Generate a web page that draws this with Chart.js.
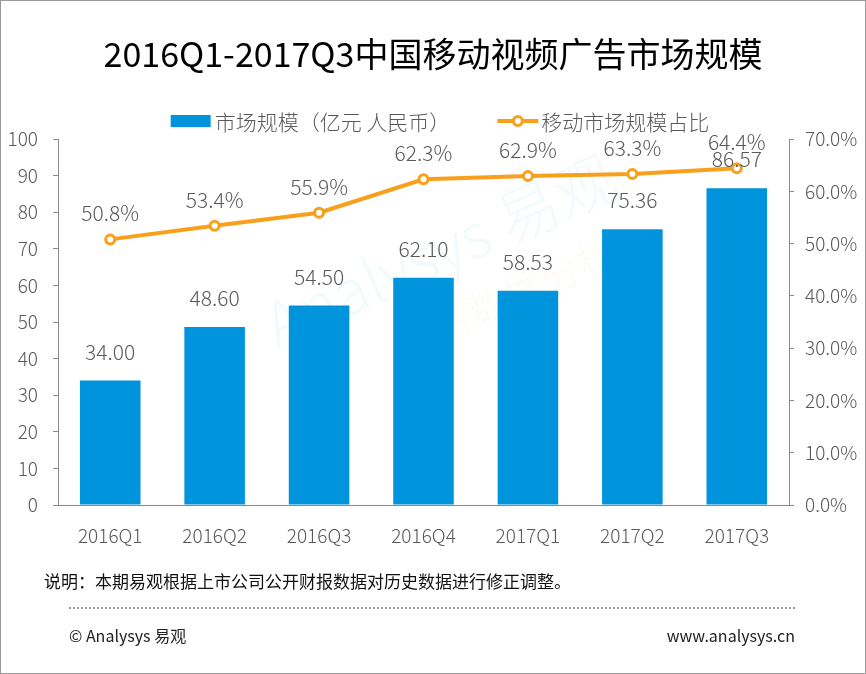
<!DOCTYPE html>
<html>
<head>
<meta charset="utf-8">
<script src="https://cdn.jsdelivr.net/npm/chart.js@4.4.0/dist/chart.umd.min.js"></script>
<style>
  html, body { margin: 0; padding: 0; background: #fff; }
  #wrap { position: relative; width: 866px; height: 674px; box-sizing: border-box; border: 1px solid #9a9a9a; overflow: hidden; font-family: "Noto Sans CJK SC", "Noto Sans", sans-serif; }
  #chart { position: absolute; left: -1px; top: -1px; }
  .txt { position: absolute; white-space: nowrap; }
  #title { left: 0; width: 864px; top: 29px; text-align: center; font-size: 34px; color: #000; line-height: 46px; }
  #note { left: 43px; top: 567px; font-size: 17px; color: #111; }
  #dots { position: absolute; left: 68px; width: 726px; top: 606px; border-top: 2px dotted #9a9a9a; }
  #copy { left: 68px; top: 622px; font-size: 16px; color: #222; }
  #site { right: 70px; top: 622px; font-size: 16px; color: #222; }
</style>
</head>
<body>
<div id="wrap">
  <canvas id="chart" width="866" height="674"></canvas>
  <div id="title" class="txt">2016Q1-2017Q3中国移动视频广告市场规模</div>
  <div id="note" class="txt">说明：本期易观根据上市公司公开财报数据对历史数据进行修正调整。</div>
  <div id="dots"></div>
  <div id="copy" class="txt">© Analysys 易观</div>
  <div id="site" class="txt">www.analysys.cn</div>
</div>
<script>
const quarters = ['2016Q1', '2016Q2', '2016Q3', '2016Q4', '2017Q1', '2017Q2', '2017Q3'];
const marketSize = [34.00, 48.60, 54.50, 62.10, 58.53, 75.36, 86.57];
const mobileShare = [50.8, 53.4, 55.9, 62.3, 62.9, 63.3, 64.4];
const leftTicks = [0, 10, 20, 30, 40, 50, 60, 70, 80, 90, 100];
const rightTicks = [0, 10, 20, 30, 40, 50, 60, 70];

const BLUE = '#0094dc';
const ORANGE = '#f8a01c';
const GREY = '#595959';
const AXIS = '#8a8a8a';
const FONT = '"Noto Sans CJK SC", "Noto Sans", sans-serif';

// faint logo behind the plot
const watermark = {
  id: 'watermark',
  beforeDatasetsDraw(chart) {
    const ctx = chart.ctx;
    ctx.save();
    ctx.translate(440, 250);
    ctx.rotate(-0.42);
    ctx.font = '300 62px ' + FONT;
    ctx.fillStyle = 'rgba(0,150,220,0.05)';
    ctx.textAlign = 'center';
    ctx.textBaseline = 'middle';
    ctx.fillText('Analysys 易观', 0, 0);
    ctx.font = '300 40px ' + FONT;
    ctx.fillStyle = 'rgba(245,150,40,0.05)';
    ctx.fillText('佚名数据分析', 40, 70);
    ctx.restore();
  }
};

// value labels above bars and points
const valueLabels = {
  id: 'valueLabels',
  afterDatasetsDraw(chart) {
    const ctx = chart.ctx;
    ctx.save();
    ctx.font = '300 21px ' + FONT;
    ctx.fillStyle = GREY;
    ctx.textAlign = 'center';
    ctx.textBaseline = 'middle';
    chart.data.datasets.forEach((ds, i) => {
      const meta = chart.getDatasetMeta(i);
      meta.data.forEach((el, j) => {
        const v = ds.data[j];
        if (ds.type === 'bar') ctx.fillText(v.toFixed(2), el.x, el.y - 29);
        else ctx.fillText(v.toFixed(1) + '%', el.x, el.y - 26);
      });
    });
    ctx.restore();
  }
};

// legend drawn by hand to match the original layout
const customLegend = {
  id: 'customLegend',
  afterDraw(chart) {
    const ctx = chart.ctx;
    const bar = chart.data.datasets[1];
    const line = chart.data.datasets[0];
    ctx.save();
    ctx.font = '300 21px ' + FONT;
    ctx.textBaseline = 'middle';
    const w1 = ctx.measureText(bar.label).width;
    const w2 = ctx.measureText(line.label).width;
    const total = 40 + 4 + w1 + 47 + 41 + 3 + w2;
    let x = 440 - total / 2;
    const y = 121;
    ctx.fillStyle = BLUE;
    ctx.fillRect(x, y - 6, 40, 12);
    x += 44;
    ctx.fillStyle = GREY;
    ctx.fillText(bar.label, x, y + 1);
    x += w1 + 47;
    ctx.strokeStyle = ORANGE;
    ctx.lineWidth = 4;
    ctx.beginPath();
    ctx.moveTo(x, y);
    ctx.lineTo(x + 41, y);
    ctx.stroke();
    ctx.beginPath();
    ctx.arc(x + 20.5, y, 4.5, 0, Math.PI * 2);
    ctx.fillStyle = '#fff';
    ctx.fill();
    ctx.lineWidth = 3;
    ctx.stroke();
    x += 44;
    ctx.fillStyle = GREY;
    ctx.fillText(line.label, x, y + 1);
    ctx.restore();
  }
};

const tickFont = { family: FONT, size: 19, weight: 300 };

new Chart(document.getElementById('chart'), {
  type: 'bar',
  data: {
    labels: quarters,
    datasets: [
      {
        type: 'line',
        label: '移动市场规模占比',
        data: mobileShare,
        yAxisID: 'y1',
        borderColor: ORANGE,
        borderWidth: 4,
        pointRadius: 4.5,
        pointBackgroundColor: '#fff',
        pointBorderColor: ORANGE,
        pointBorderWidth: 3,
        tension: 0,
        order: 0
      },
      {
        type: 'bar',
        label: '市场规模（亿元 人民币）',
        data: marketSize,
        yAxisID: 'y',
        backgroundColor: BLUE,
        categoryPercentage: 1,
        barPercentage: 0.58,
        order: 1
      }
    ]
  },
  options: {
    responsive: false,
    animation: false,
    devicePixelRatio: 1,
    layout: { padding: { top: 139, left: 0, right: 0, bottom: 0 } },
    plugins: { legend: { display: false }, tooltip: { enabled: false } },
    scales: {
      x: {
        grid: { display: false },
        border: { display: true, color: AXIS, width: 1 },
        ticks: { color: GREY, font: tickFont, padding: 11 },
        afterFit(s) { s.height = 169; }
      },
      y: {
        position: 'left',
        min: 0,
        max: 100,
        afterBuildTicks(s) { s.ticks = leftTicks.map(v => ({ value: v })); },
        grid: { drawOnChartArea: false, tickLength: 5, color: AXIS },
        border: { color: AXIS },
        ticks: { color: GREY, font: tickFont, padding: 15 },
        afterFit(s) { s.width = 58; }
      },
      y1: {
        position: 'right',
        min: 0,
        max: 70,
        afterBuildTicks(s) { s.ticks = rightTicks.map(v => ({ value: v })); },
        grid: { drawOnChartArea: false, tickLength: 5, color: AXIS },
        border: { color: AXIS },
        ticks: {
          color: GREY,
          font: tickFont,
          padding: 11,
          callback: v => v.toFixed(1) + '%'
        },
        afterFit(s) { s.width = 77; }
      }
    }
  },
  plugins: [watermark, valueLabels, customLegend]
});
</script>
</body>
</html>
